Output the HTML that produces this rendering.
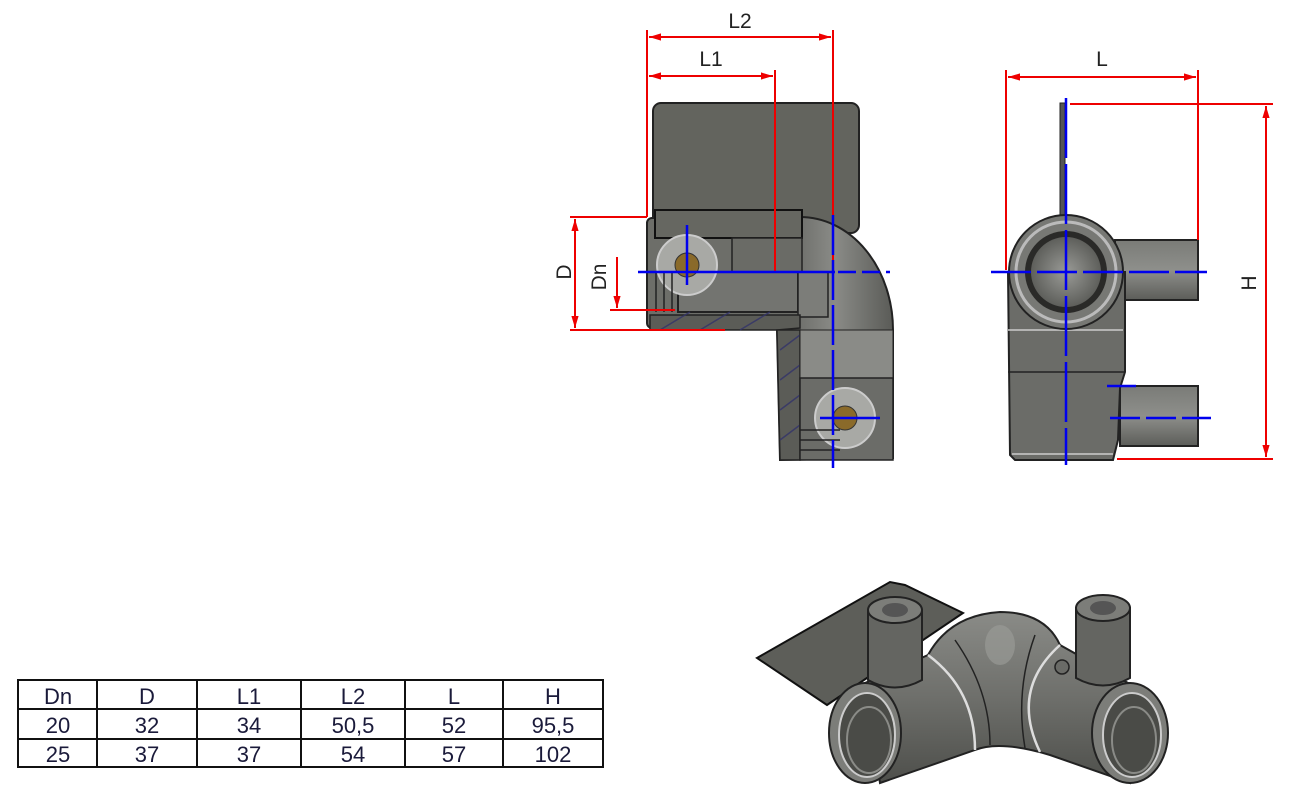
<!DOCTYPE html>
<html><head><meta charset="utf-8"><style>
html,body{margin:0;padding:0;background:#fff;width:1300px;height:804px;overflow:hidden}
svg{position:absolute;left:0;top:0}
text{font-family:"Liberation Sans",sans-serif;}
</style></head><body>
<svg width="1300" height="804" viewBox="0 0 1300 804">
<defs>
<linearGradient id="gv" x1="0" x2="1" y1="0" y2="0"><stop offset="0" stop-color="#5f605c"/><stop offset="0.5" stop-color="#8a8b87"/><stop offset="1" stop-color="#5a5b57"/></linearGradient>
<linearGradient id="gh" x1="0" x2="0" y1="0" y2="1"><stop offset="0" stop-color="#7a7b77"/><stop offset="0.5" stop-color="#8e8f8b"/><stop offset="1" stop-color="#5c5d59"/></linearGradient>
<linearGradient id="gi" x1="0" x2="0" y1="0" y2="1"><stop offset="0" stop-color="#8a8b87"/><stop offset="0.5" stop-color="#6e6f6b"/><stop offset="1" stop-color="#4e4f4b"/></linearGradient>
<radialGradient id="gr" cx="0.5" cy="0.5" r="0.5"><stop offset="0" stop-color="#9a9b97"/><stop offset="1" stop-color="#5e5f5b"/></radialGradient>
<marker id="ar" viewBox="0 0 10 10" refX="10" refY="5" markerWidth="12" markerHeight="6" orient="auto-start-reverse"><path d="M0,2 L10,5 L0,8 z" fill="#e00"/></marker>
</defs>

<!-- FRONT VIEW -->
<rect x="653" y="103" width="206" height="130" rx="8" fill="#63645e" stroke="#222" stroke-width="2"/>
<path d="M790,217 L800,217 A93,113 0 0 1 893,330 L893,458 L780,460 L777,330 L790,330 Z" fill="url(#gv)" stroke="#222" stroke-width="2"/>
<rect x="647" y="218" width="152" height="110" rx="5" fill="#6d6e69" stroke="#222" stroke-width="2"/>
<rect x="655" y="210" width="147" height="28" fill="#666761" stroke="#111" stroke-width="2"/>
<rect x="732" y="238" width="70" height="34" fill="#6a6b66" stroke="#222" stroke-width="1.5"/>
<rect x="678" y="272" width="120" height="40" fill="#737470" stroke="#222" stroke-width="2"/>
<rect x="798" y="272" width="30" height="45" fill="#7c7d79" stroke="#222" stroke-width="1.5"/>
<path d="M650,315 L800,315 L800,328 L777,330 L650,330 Z" fill="#5b5c57" stroke="#222" stroke-width="1.5"/>
<path d="M777,330 L800,330 L800,460 L780,460 Z" fill="#5b5c57" stroke="#222" stroke-width="1.5"/>
<g stroke="#33336a" stroke-width="1.5" opacity="0.8">
<line x1="660" y1="330" x2="690" y2="312"/><line x1="700" y1="330" x2="730" y2="312"/><line x1="740" y1="330" x2="770" y2="312"/>
<line x1="780" y1="350" x2="800" y2="335"/><line x1="780" y1="380" x2="800" y2="365"/><line x1="780" y1="410" x2="800" y2="395"/><line x1="780" y1="440" x2="800" y2="425"/>
</g>
<rect x="800" y="330" width="93" height="48" fill="#8a8b87" stroke="#222" stroke-width="1"/>
<rect x="800" y="378" width="93" height="82" fill="#6b6c68" stroke="#222" stroke-width="1.5"/>
<circle cx="687" cy="265" r="30" fill="#a8a9a5" stroke="#ccc" stroke-width="2"/>
<circle cx="687" cy="265" r="12" fill="#8a6a2a" stroke="#333"/>
<circle cx="845" cy="418" r="30" fill="#a8a9a5" stroke="#ccc" stroke-width="2"/>
<circle cx="845" cy="418" r="12" fill="#8a6a2a" stroke="#333"/>
<g stroke="#222" stroke-width="1.5"><line x1="656" y1="272" x2="656" y2="312"/><line x1="664" y1="272" x2="664" y2="312"/><line x1="672" y1="272" x2="672" y2="312"/>
<line x1="800" y1="430" x2="840" y2="430"/><line x1="800" y1="440" x2="840" y2="440"/><line x1="800" y1="450" x2="840" y2="450"/></g>

<g stroke="#e00" stroke-width="2" fill="none">
<line x1="647" y1="30" x2="647" y2="217"/><line x1="647" y1="217" x2="570" y2="217"/>
<line x1="833" y1="30" x2="833" y2="260"/>
<line x1="775" y1="70" x2="775" y2="272"/>
<line x1="649" y1="37" x2="831" y2="37" marker-start="url(#ar)" marker-end="url(#ar)"/>
<line x1="649" y1="76" x2="773" y2="76" marker-start="url(#ar)" marker-end="url(#ar)"/>
<line x1="575" y1="219" x2="575" y2="328" marker-start="url(#ar)" marker-end="url(#ar)"/>
<line x1="570" y1="330" x2="725" y2="330"/>
<line x1="617" y1="257" x2="617" y2="308" marker-end="url(#ar)"/>
<line x1="610" y1="310" x2="675" y2="310"/>
</g>
<text x="740" y="28" font-size="21" text-anchor="middle" fill="#222">L2</text>
<text x="711" y="66" font-size="21" text-anchor="middle" fill="#222">L1</text>
<text transform="translate(571,272) rotate(-90)" font-size="21" text-anchor="middle" fill="#222">D</text>
<text transform="translate(606,277) rotate(-90)" font-size="21" text-anchor="middle" fill="#222">Dn</text>
<g stroke="#00e" stroke-width="2.5" fill="none">
<line x1="638" y1="272" x2="835" y2="272"/>
<line x1="838" y1="272" x2="890" y2="272" stroke-dasharray="18,6"/>
<line x1="833" y1="215" x2="833" y2="468" stroke-dasharray="40,5"/>
<line x1="687" y1="225" x2="687" y2="285"/>
<line x1="820" y1="418" x2="880" y2="418"/>
</g>

<!-- RIGHT VIEW -->
<rect x="1060" y="103" width="5" height="112" fill="#555" stroke="#222"/>
<rect x="1115" y="240" width="83" height="60" fill="url(#gh)" stroke="#222" stroke-width="2"/>
<rect x="1120" y="386" width="78" height="60" fill="url(#gh)" stroke="#222" stroke-width="2"/>
<path d="M1008,272 L1125,272 L1125,372 L1120,388 L1118,440 L1113,460 L1015,460 L1010,455 Z" fill="#6b6c68" stroke="#222" stroke-width="2"/>
<line x1="1008" y1="330" x2="1123" y2="330" stroke="#ccc" stroke-width="1.5"/>
<line x1="1008" y1="372" x2="1125" y2="372" stroke="#222" stroke-width="1.5"/>
<line x1="1012" y1="454" x2="1113" y2="454" stroke="#ccc" stroke-width="1.5"/>
<circle cx="1066" cy="272" r="57" fill="#777874" stroke="#222" stroke-width="2"/>
<circle cx="1066" cy="272" r="50" fill="none" stroke="#bbb" stroke-width="3"/>
<circle cx="1066" cy="272" r="41" fill="#2a2a28"/>
<circle cx="1066" cy="272" r="35" fill="url(#gr)"/>
<g stroke="#e00" stroke-width="2" fill="none">
<line x1="1006" y1="70" x2="1006" y2="270"/><line x1="1198" y1="70" x2="1198" y2="240"/>
<line x1="1008" y1="77" x2="1196" y2="77" marker-start="url(#ar)" marker-end="url(#ar)"/>
<line x1="1070" y1="104" x2="1273" y2="104"/><line x1="1117" y1="459" x2="1273" y2="459"/>
<line x1="1266" y1="106" x2="1266" y2="457" marker-start="url(#ar)" marker-end="url(#ar)"/>
</g>
<text x="1102" y="66" font-size="21" text-anchor="middle" fill="#222">L</text>
<text transform="translate(1256,283) rotate(-90)" font-size="21" text-anchor="middle" fill="#222">H</text>
<g stroke="#00e" stroke-width="2.5" fill="none">
<line x1="991" y1="272" x2="1207" y2="272" stroke-dasharray="40,6"/>
<line x1="1066" y1="98" x2="1066" y2="465" stroke-dasharray="60,6"/>
<line x1="1110" y1="418" x2="1211" y2="418" stroke-dasharray="30,6"/>
<line x1="1107" y1="386" x2="1136" y2="386"/>
</g>

<!-- ISO VIEW -->
<path d="M757,658 L890,582 L905,585 L963,613 L827,705 Z" fill="#5d5e59" stroke="#111" stroke-width="2"/>
<path d="M865,683 L928,655 Q950,615 1000,612 Q1045,612 1060,645 L1128,683 L1130,783 L1050,755 Q1000,740 975,750 L880,783 Z" fill="url(#gi)" stroke="#222" stroke-width="2"/>
<path d="M928,655 Q975,690 975,750" fill="none" stroke="#ddd" stroke-width="2.5"/>
<path d="M1060,645 Q1010,690 1040,752" fill="none" stroke="#ddd" stroke-width="2.5"/>
<path d="M955,640 Q990,690 990,745" fill="none" stroke="#222" stroke-width="1.5"/>
<path d="M1035,635 Q1015,690 1025,748" fill="none" stroke="#222" stroke-width="1.5"/>
<ellipse cx="1000" cy="645" rx="15" ry="20" fill="#999a96" opacity="0.7"/>
<ellipse cx="865" cy="733" rx="36" ry="50" fill="#7c7d79" stroke="#222" stroke-width="2"/>
<ellipse cx="867" cy="735" rx="28" ry="42" fill="#4a4b47" stroke="#ccc" stroke-width="2"/>
<ellipse cx="869" cy="740" rx="22" ry="33" fill="none" stroke="#8a8b87" stroke-width="2"/>
<ellipse cx="1130" cy="733" rx="38" ry="50" fill="#7c7d79" stroke="#222" stroke-width="2"/>
<ellipse cx="1132" cy="735" rx="29" ry="42" fill="#4a4b47" stroke="#ccc" stroke-width="2"/>
<ellipse cx="1134" cy="740" rx="22" ry="33" fill="none" stroke="#8a8b87" stroke-width="2"/>
<circle cx="1062" cy="667" r="7" fill="#6a6b67" stroke="#222" stroke-width="1.5"/>
<path d="M868,610 L868,680 Q895,695 922,680 L922,610 Z" fill="#646561" stroke="#222" stroke-width="2"/>
<ellipse cx="895" cy="610" rx="27" ry="13" fill="#7c7d79" stroke="#222" stroke-width="2"/>
<ellipse cx="895" cy="610" rx="13" ry="7" fill="#555"/>
<path d="M1076,608 L1076,678 Q1103,693 1130,678 L1130,608 Z" fill="#646561" stroke="#222" stroke-width="2"/>
<ellipse cx="1103" cy="608" rx="27" ry="13" fill="#7c7d79" stroke="#222" stroke-width="2"/>
<ellipse cx="1103" cy="608" rx="13" ry="7" fill="#555"/>

<!-- TABLE -->
<g stroke="#111" stroke-width="2" fill="none">
<rect x="18" y="680" width="585" height="87"/>
<line x1="18" y1="709" x2="603" y2="709"/><line x1="18" y1="739" x2="603" y2="739"/>
<line x1="97" y1="680" x2="97" y2="767"/><line x1="197" y1="680" x2="197" y2="767"/>
<line x1="301" y1="680" x2="301" y2="767"/><line x1="405" y1="680" x2="405" y2="767"/>
<line x1="503" y1="680" x2="503" y2="767"/>
</g>
<g font-size="22" text-anchor="middle" fill="#1a1a3a">
<text x="58" y="704">Dn</text><text x="147" y="704">D</text><text x="249" y="704">L1</text><text x="353" y="704">L2</text><text x="454" y="704">L</text><text x="553" y="704">H</text>
<text x="58" y="733">20</text><text x="147" y="733">32</text><text x="249" y="733">34</text><text x="353" y="733">50,5</text><text x="454" y="733">52</text><text x="553" y="733">95,5</text>
<text x="58" y="762">25</text><text x="147" y="762">37</text><text x="249" y="762">37</text><text x="353" y="762">54</text><text x="454" y="762">57</text><text x="553" y="762">102</text>
</g>
</svg>
</body></html>
